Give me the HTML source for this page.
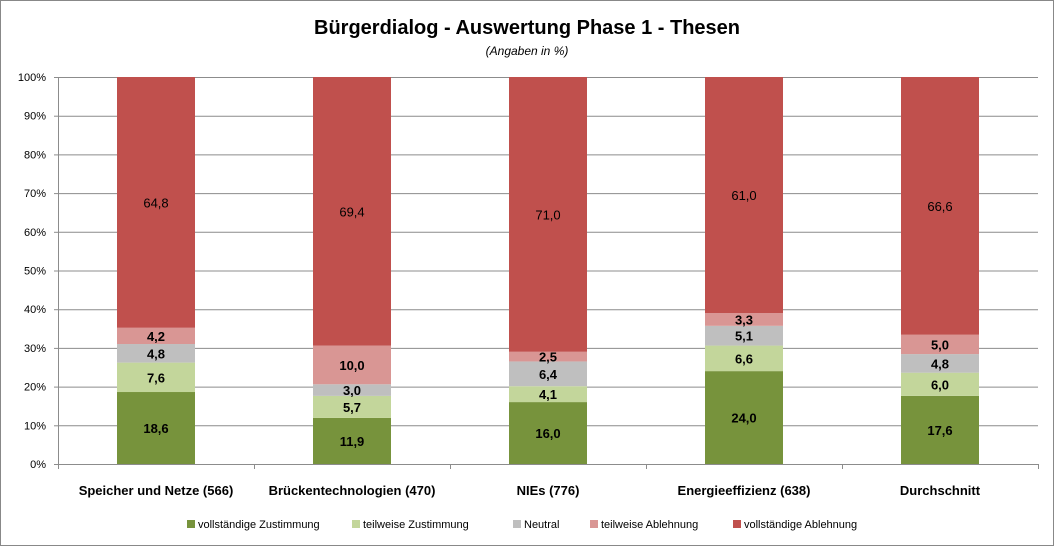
<!DOCTYPE html>
<html><head><meta charset="utf-8"><style>
body{margin:0;background:#fff;font-family:"Liberation Sans",sans-serif}
#wrap{position:relative;width:1055px;height:547px;overflow:hidden}
</style></head><body>
<div id="wrap">
<svg id="chart" width="1055" height="547">
<rect x="0.5" y="0.5" width="1053" height="545" fill="#fff" stroke="#888"/>
<text x="527" y="34" text-anchor="middle" font-size="20" font-weight="bold" fill="#000">Bürgerdialog - Auswertung Phase 1 - Thesen</text>
<text x="527" y="55" text-anchor="middle" font-size="12" font-style="italic" fill="#000">(Angaben in %)</text>
<g id="grid"></g><g id="bars"></g><g id="axes"></g><g id="legend"></g>
</svg></div>
<script>
const categories=["Speicher und Netze (566)","Brückentechnologien (470)","NIEs (776)","Energieeffizienz (638)","Durchschnitt"];
const seriesNames=["vollständige Zustimmung","teilweise Zustimmung","Neutral","teilweise Ablehnung","vollständige Ablehnung"];
const vollZust=[18.6,11.9,16.0,24.0,17.6];
const teilZust=[7.6,5.7,4.1,6.6,6.0];
const neutral=[4.8,3.0,6.4,5.1,4.8];
const teilAbl=[4.2,10.0,2.5,3.3,5.0];
const vollAbl=[64.8,69.4,71.0,61.0,66.6];
const yTicks=[0,10,20,30,40,50,60,70,80,90,100];
const colors=["#77933C","#C3D69B","#BFBFBF","#D99694","#C0504D"];
const series=[vollZust,teilZust,neutral,teilAbl,vollAbl];
const NS="http://www.w3.org/2000/svg";
const X0=58,X1=1038,Y0=464,Y1=77;
const bw=(X1-X0)/categories.length;
const y=v=>Y0-(v/100)*(Y0-Y1);
const xc=i=>X0+bw*(i+0.5);
function mk(t,a,p,txt){const e=document.createElementNS(NS,t);for(const k in a)e.setAttribute(k,a[k]);if(txt!==undefined)e.textContent=txt;p.appendChild(e);return e;}
const grid=document.getElementById('grid'),bars=document.getElementById('bars'),axes=document.getElementById('axes'),legend=document.getElementById('legend');
yTicks.forEach(t=>{
 const l=mk('line',{x1:X0,x2:X1,y1:y(t)+0.5,y2:y(t)+0.5,stroke:'#8c8c8c','stroke-width':1},grid);
 
 
 const tk=mk('line',{x1:X0-4,x2:X0,y1:y(t)+0.5,y2:y(t)+0.5,stroke:'#8c8c8c'},axes);
 
 
 const tx=mk('text',{x:X0-12,y:y(t)+4,'text-anchor':'end','font-size':11,fill:'#000'},axes,t+'%');
 
 
});
const ya=mk('line',{x1:X0+0.5,x2:X0+0.5,y1:Y1,y2:Y0+5,stroke:'#8c8c8c'},axes);


for(let i=0;i<=categories.length;i++){
 const tk=mk('line',{x1:X0+bw*i+0.5,x2:X0+bw*i+0.5,y1:Y0,y2:Y0+5,stroke:'#8c8c8c'},axes);
 
 
}
categories.forEach((c,i)=>{
 let cum=0;
 series.forEach((s,j)=>{
  const v=s[i],top=y(cum+v),bot=y(cum);
  const r=mk('rect',{x:xc(i)-39,y:top,width:78,height:bot-top,fill:colors[j]},bars);
  
  
  const t=mk('text',{x:xc(i),y:(top+bot)/2+5,'text-anchor':'middle','font-size':13,'font-weight':j==4?'normal':'bold',fill:'#000'},bars,v.toFixed(1).replace('.',','));
  
  
  cum+=v;
 });
 const cl=mk('text',{x:xc(i),y:495,'text-anchor':'middle','font-size':13,'font-weight':'bold',fill:'#000'},axes,c);
 
 
});
const lx=[187,352,513,590,733];
seriesNames.forEach((n,j)=>{
 const g=mk('g',{},legend);
 
 
 mk('rect',{x:lx[j],y:520,width:8,height:8,fill:colors[j]},g);
 mk('text',{x:lx[j]+11,y:528,'font-size':11,fill:'#000'},g,n);
});
</script>
</body></html>
